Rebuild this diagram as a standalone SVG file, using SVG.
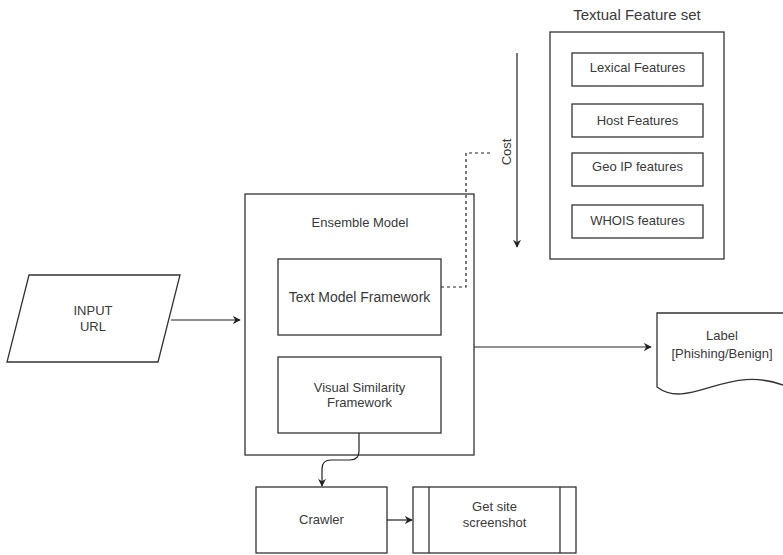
<svg xmlns="http://www.w3.org/2000/svg" width="783" height="555" viewBox="0 0 783 555">
<style>
.b{fill:#fff;stroke:#333;stroke-width:1.3}
.t{font-family:"Liberation Sans",Arial,sans-serif;font-size:13px;fill:#3a3a3a;text-anchor:middle}
.c{fill:none;stroke:#222;stroke-width:1.2}
</style>
<defs>
<marker id="ah" viewBox="0 0 10 10" refX="9" refY="5" markerWidth="8" markerHeight="8" markerUnits="userSpaceOnUse" orient="auto">
<path d="M0,0 L10,5 L0,10 L3,5 Z" fill="#222"/>
</marker>
</defs>
<rect width="783" height="555" fill="#fff"/>
<g id="feature-set">
<rect class="b" x="550" y="32" width="174" height="227"/>
<text class="t" x="637" y="20" style="font-size:15px">Textual Feature set</text>
</g>
<g id="lexical"><rect class="b" x="572" y="53" width="131" height="33"/><text class="t" x="637.5" y="72">Lexical Features</text></g>
<g id="host"><rect class="b" x="572" y="104" width="131" height="33"/><text class="t" x="637.5" y="125">Host Features</text></g>
<g id="geoip"><rect class="b" x="572" y="153" width="131" height="33"/><text class="t" x="637.5" y="171">Geo IP features</text></g>
<g id="whois"><rect class="b" x="572" y="205" width="131" height="33"/><text class="t" x="637.5" y="225">WHOIS features</text></g>
<g id="ensemble">
<rect class="b" x="245" y="194" width="229" height="261"/>
<text class="t" x="360" y="227">Ensemble Model</text>
</g>
<g id="text-model"><rect class="b" x="278" y="259" width="163" height="76"/><text class="t" x="359.5" y="302" style="font-size:14px">Text Model Framework</text></g>
<g id="visual"><rect class="b" x="278" y="357" width="163" height="76"/><text class="t" x="359.5" y="392">Visual Similarity</text><text class="t" x="359.5" y="407">Framework</text></g>
<g id="input"><path class="b" d="M29,275 H180 L158,362 H7 Z"/><text class="t" x="93" y="315">INPUT</text><text class="t" x="93" y="331">URL</text></g>
<g id="label"><path class="b" d="M657,313 H790 V388 C730,360 690,412 657,387 Z"/><text class="t" x="722" y="340">Label</text><text class="t" x="722" y="358">[Phishing/Benign]</text></g>
<g id="crawler"><rect class="b" x="256" y="487" width="131" height="66"/><text class="t" x="321.5" y="524">Crawler</text></g>
<g id="screenshot"><rect class="b" x="413" y="487" width="163" height="66"/><line class="b" x1="429" y1="487" x2="429" y2="553"/><line class="b" x1="560" y1="487" x2="560" y2="553"/><text class="t" x="494.5" y="511">Get site</text><text class="t" x="494.5" y="527">screenshot</text></g>
<g id="connectors">
<path class="c" d="M171,320 H240" marker-end="url(#ah)"/>
<path class="c" d="M474,347 H651" marker-end="url(#ah)"/>
<path class="c" d="M359,433 V451 Q359,460 350,460 H331 Q322,460 322,469 V486" marker-end="url(#ah)"/>
<path class="c" d="M387,520 H412" marker-end="url(#ah)"/>
<path class="c" d="M517,53 V247" marker-end="url(#ah)"/>
<path class="c" d="M441,287 H466 V153 H492" stroke-dasharray="3,3"/>
<text class="t" x="0" y="0" transform="translate(511,152) rotate(-90)">Cost</text>
</g>
</svg>
